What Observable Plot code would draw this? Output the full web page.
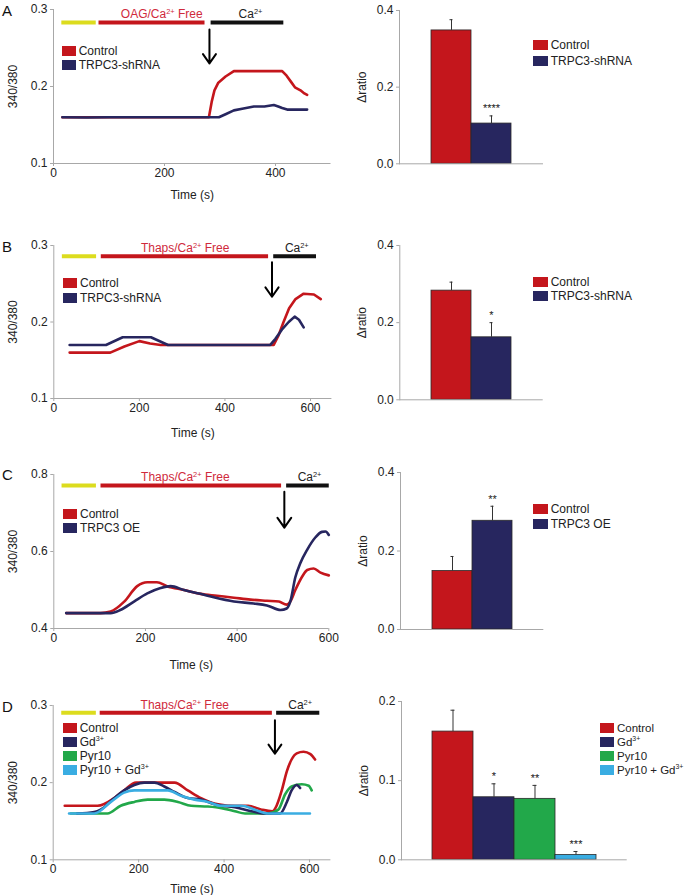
<!DOCTYPE html>
<html>
<head>
<meta charset="utf-8">
<script src="https://cdn.jsdelivr.net/npm/d3@7"></script>
<script src="https://cdn.jsdelivr.net/npm/@observablehq/plot@0.6"></script>
<style>
  body { margin: 0; background: #fff; }
  #fig { position: relative; width: 685px; height: 895px; overflow: hidden;
         font-family: "Liberation Sans", Arial, Helvetica, sans-serif; color: #222; }
  #fig svg { position: absolute; overflow: visible; }
  .letter { position: absolute; font-size: 15px; line-height: 15px; color: #111; }
  .legend { position: absolute; font-size: 12px; white-space: nowrap; }
  .legend .row { display: flex; align-items: center; height: 14.5px; }
  .legend .sw { display: inline-block; width: 14px; height: 10px; margin-right: 3px; }
  sup { font-size: 0.6em; vertical-align: 0.7em; line-height: 0; }
</style>
</head>
<body>
<div id="fig"></div>
<script>
// ---------------- DATA ----------------
// Panel A traces [time (s), 340/380]
const A_control = [[16,0.16],[100,0.16],[200,0.16],[280,0.16],[285,0.18],[290,0.195],[297,0.205],[310,0.213],[325,0.22],[360,0.22],[412,0.22],[420,0.214],[428,0.206],[435,0.199],[445,0.195],[452,0.191],[457,0.189]];
const A_trpc3 = [[16,0.16],[60,0.1598],[100,0.16],[200,0.16],[298,0.16],[310,0.164],[325,0.169],[340,0.171],[361,0.174],[380,0.174],[397,0.176],[405,0.174],[412,0.172],[421,0.17],[457,0.17]];
// Panel B traces
const B_control = [[37,0.16],[132,0.16],[165,0.168],[200,0.175],[225,0.172],[250,0.17],[514,0.17],[525,0.182],[537,0.2],[550,0.218],[565,0.23],[584,0.237],[608,0.236],[624,0.23]];
const B_trpc3 = [[37,0.17],[122,0.17],[161,0.18],[227,0.18],[267,0.17],[506,0.17],[518,0.178],[533,0.19],[549,0.2],[563,0.207],[573,0.203],[584,0.193]];
// Panel C traces
const C_control = [[27,0.44],[102,0.44],[124,0.444],[153,0.469],[182,0.51],[204,0.52],[225,0.52],[247,0.51],[284,0.5],[320,0.49],[356,0.485],[393,0.48],[429,0.475],[465,0.472],[491,0.47],[508,0.462],[516,0.47],[527,0.5],[542,0.535],[553,0.552],[567,0.556],[582,0.545],[600,0.538]];
const C_oe = [[27,0.44],[124,0.44],[145,0.448],[175,0.47],[204,0.491],[233,0.505],[255,0.51],[284,0.5],[320,0.49],[349,0.481],[393,0.47],[436,0.465],[465,0.46],[495,0.448],[508,0.452],[516,0.47],[527,0.533],[538,0.57],[553,0.605],[571,0.637],[585,0.651],[593,0.652],[600,0.643]];
// Panel D traces
const D_control = [[27,0.17],[104,0.17],[143,0.18],[166,0.19],[194,0.2],[284,0.2],[315,0.19],[346,0.18],[386,0.172],[425,0.17],[456,0.17],[488,0.165],[513,0.163],[521,0.168],[535,0.19],[547,0.215],[558,0.23],[570,0.238],[586,0.24],[602,0.237],[613,0.23]];
const D_gd = [[56,0.16],[96,0.162],[111,0.165],[143,0.18],[166,0.19],[190,0.197],[213,0.2],[237,0.2],[260,0.195],[284,0.188],[315,0.18],[346,0.178],[378,0.172],[425,0.168],[464,0.163],[495,0.16],[531,0.16],[547,0.175],[558,0.19],[570,0.197],[578,0.193]];
const D_pyr = [[41,0.16],[127,0.16],[158,0.17],[190,0.175],[221,0.178],[260,0.178],[292,0.175],[323,0.17],[362,0.169],[394,0.167],[425,0.163],[449,0.16],[503,0.16],[527,0.165],[543,0.185],[558,0.195],[582,0.198],[598,0.196],[605,0.19]];
const D_pyrgd = [[37,0.16],[96,0.16],[135,0.175],[166,0.187],[190,0.19],[268,0.19],[299,0.183],[331,0.178],[362,0.175],[394,0.17],[441,0.17],[472,0.165],[503,0.16],[601,0.16]];

// Protocol segments (time, s); labelAt = where the label is centred
const protoA = [{start:15,end:77,label:"",labelAt:46},{start:82,end:273,label:"OAG/Ca²⁺ Free",labelAt:195},{start:284,end:415,label:"Ca²⁺",labelAt:355}];
const protoB = [{start:20,end:100,label:"",labelAt:60},{start:111,end:502,label:"Thaps/Ca²⁺ Free",labelAt:307},{start:514,end:614,label:"Ca²⁺",labelAt:568}];
const protoC = [{start:18,end:93,label:"",labelAt:55},{start:103,end:497,label:"Thaps/Ca²⁺ Free",labelAt:287},{start:508,end:601,label:"Ca²⁺",labelAt:558}];
const protoD = [{start:20,end:101,label:"",labelAt:60},{start:110,end:513,label:"Thaps/Ca²⁺ Free",labelAt:308},{start:523,end:624,label:"Ca²⁺",labelAt:578}];

// Ca2+ addition arrows
const arrowA = {t:281, from:0.274, to:0.230};
const arrowB = {t:510, from:0.278, to:0.233};
const arrowC = {t:503, from:0.755, to:0.662};
const arrowD = {t:519, from:0.281, to:0.2375};

// Bar charts (Δratio)
const barA_groups = ["Control","TRPC3-shRNA"];
const barA_values = [0.348, 0.105];
const barA_errors = [0.028, 0.020];
const barA_stars  = ["", "****"];

const barB_groups = ["Control","TRPC3-shRNA"];
const barB_values = [0.283, 0.162];
const barB_errors = [0.022, 0.038];
const barB_stars  = ["", "*"];

const barC_groups = ["Control","TRPC3 OE"];
const barC_values = [0.149, 0.277];
const barC_errors = [0.037, 0.037];
const barC_stars  = ["", "**"];

const barD_groups = ["Control","Gd³⁺","Pyr10","Pyr10 + Gd³⁺"];
const barD_values = [0.162, 0.079, 0.077, 0.006];
const barD_errors = [0.027, 0.017, 0.017, 0.0045];
const barD_stars  = ["", "*", "**", "***"];

// Tick labels
const ticksX_A = [0,200,400];
const ticksX_BCD = [0,200,400,600];
const ticksY_ratio = [0.1,0.2,0.3];
const ticksY_C = [0.4,0.6,0.8];
const ticksY_bar = [0.0,0.2,0.4];
const ticksY_barD = [0.0,0.1,0.2];

// ---------------- STYLE ----------------
const COL = {red:"#c4161c", navy:"#27265f", green:"#22a84a", cyan:"#3aade2", yellow:"#dcdc1e", black:"#111111", label:"#d02a3c"};
const PROTO_COLORS = [COL.yellow, COL.red, COL.black];
const PROTO_TEXT = [COL.black, COL.label, "#222"];
const AXIS = "#a8a8a8";
const TXT = "#222";
const FONT = '"Liberation Sans", Arial, Helvetica, sans-serif';

const fig = document.getElementById("fig");
const NS = "http://www.w3.org/2000/svg";

function supify(root) {
  root.querySelectorAll("text, tspan").forEach(t => {
    if (t.children.length) return;
    const s = t.textContent;
    if (!/[²³]⁺/.test(s)) return;
    const parts = s.split(/([²³]⁺)/);
    t.textContent = "";
    parts.forEach(p => {
      if (!p) return;
      const ts = document.createElementNS(NS, "tspan");
      if (/[²³]⁺/.test(p)) {
        ts.textContent = p.replace("²","2").replace("³","3").replace("⁺","+");
        ts.setAttribute("baseline-shift", "super");
        ts.setAttribute("font-size", "0.62em");
      } else ts.textContent = p;
      t.appendChild(ts);
    });
  });
}
function htmlSup(s) {
  return s.replace(/([²³])⁺/g, (m, d) => "<sup>" + (d === "²" ? "2" : "3") + "+</sup>");
}

function place(svg, left, top) {
  svg.style.left = left + "px";
  svg.style.top = top + "px";
  supify(svg);
  fig.appendChild(svg);
}

function linePanel(p) {
  const W = 340, mt = 10, mb = 45;
  const H = (p.fb - p.ft) + mt + mb;
  const topV = p.yDomain[1];
  const proto = p.proto.map((d, i) => ({...d, color: PROTO_COLORS[i], textColor: PROTO_TEXT[i]}));
  const svg = Plot.plot({
    width: W, height: H,
    marginLeft: p.fl, marginRight: W - p.fr, marginTop: mt, marginBottom: mb,
    x: {domain: p.xDomain},
    y: {domain: p.yDomain},
    color: {type: "identity"},
    style: {fontFamily: FONT, fontSize: "12px", background: "transparent", color: TXT},
    marks: [
      Plot.ruleX([p.xDomain[0]], {stroke: AXIS, strokeWidth: 1}),
      Plot.ruleY([p.yDomain[0]], {stroke: AXIS, strokeWidth: 1}),
      Plot.axisX({ticks: p.xTicks, tickSize: 3, tickPadding: 2, stroke: AXIS, fill: TXT, tickFormat: d3.format("d"),
                  label: "Time (s)", labelAnchor: "center", labelOffset: p.timeOffset, labelArrow: "none"}),
      Plot.axisY({ticks: p.yTicks, tickSize: 3, tickPadding: 3, stroke: AXIS, fill: TXT, tickFormat: d3.format(".1f"),
                  label: "340/380", labelAnchor: "center", labelOffset: 45, labelArrow: "none"}),
      Plot.ruleY(proto, {x1: "start", x2: "end", y: () => topV, dy: p.barOffset, stroke: "color", strokeWidth: 4}),
      Plot.text(proto, {x: "labelAt", y: () => topV, dy: p.barOffset - 8, text: "label", fill: "textColor", fontSize: 12}),
      Plot.arrow([p.arrow], {x1: "t", x2: "t", y1: "from", y2: "to", stroke: "#000", strokeWidth: 2, headLength: 9, headAngle: 70}),
      ...p.series.map(s => Plot.line(s.data, {x: d => d[0], y: d => d[1], stroke: () => s.color, strokeWidth: 2.6, curve: p.curve}))
    ]
  });
  place(svg, 0, p.ft - mt);
}

function barPanel(p) {
  const W = 345, mt = 10, mb = 20, L = 340;
  const H = (p.fb - p.ft) + mt + mb;
  const data = p.groups.map((g, i) => ({g, v: p.values[i], e: p.errors[i], s: p.stars[i]}));
  const bw = 41;
  const svg = Plot.plot({
    width: W, height: H,
    marginLeft: p.fl - L, marginRight: (L + W) - p.fr, marginTop: mt, marginBottom: mb,
    x: {type: "band", domain: p.groups, paddingInner: 0, paddingOuter: p.pad, axis: null},
    y: {domain: p.yDomain},
    color: {domain: p.groups, range: p.colors},
    style: {fontFamily: FONT, fontSize: "12px", background: "transparent", color: TXT},
    marks: [
      Plot.barY(data, {x: "g", y: "v", fill: "g", stroke: "#2a2a2a", strokeWidth: 0.8}),
      Plot.ruleX(data, {x: "g", y1: "v", y2: d => d.v + d.e, stroke: "#333", strokeWidth: 1}),
      Plot.tickY(data, {x: "g", y: d => d.v + d.e, stroke: "#333", strokeWidth: 1, insetLeft: bw / 2 - 2, insetRight: bw / 2 - 2}),
      Plot.text(data, {x: "g", y: d => d.v + d.e, text: "s", dy: -7, fontSize: 11, fill: TXT}),
      Plot.ruleY([0], {stroke: AXIS, strokeWidth: 1}),
      Plot.frame({anchor: "left", stroke: AXIS, strokeWidth: 1}),
      Plot.axisY({ticks: p.yTicks, tickSize: 3, tickPadding: 3, stroke: AXIS, fill: TXT, tickFormat: d3.format(".1f"),
                  label: "Δratio", labelAnchor: "center", labelOffset: 42, labelArrow: "none"})
    ]
  });
  place(svg, L, p.ft - mt);
}

function legend(x, yFirst, labels, colors, step, swW, fontSize) {
  const div = document.createElement("div");
  div.className = "legend";
  div.style.left = x + "px";
  div.style.top = (yFirst - step / 2) + "px";
  if (fontSize) div.style.fontSize = fontSize + "px";
  labels.forEach((lab, i) => {
    const row = document.createElement("div");
    row.className = "row";
    row.style.height = step + "px";
    row.innerHTML = `<span class="sw" style="background:${colors[i]};width:${swW}px"></span><span>${htmlSup(lab)}</span>`;
    div.appendChild(row);
  });
  fig.appendChild(div);
}

function letter(ch, x, y) {
  const d = document.createElement("div");
  d.className = "letter";
  d.textContent = ch;
  d.style.left = x + "px";
  d.style.top = y + "px";
  fig.appendChild(d);
}

// ---------------- PANELS ----------------
linePanel({fl: 53, fr: 330.5, ft: 9, fb: 163, xDomain: [0, 500], xTicks: ticksX_A, yDomain: [0.1, 0.3], yTicks: ticksY_ratio,
  proto: protoA, arrow: arrowA, barOffset: 13, timeOffset: 35, curve: "linear",
  series: [{data: A_control, color: COL.red}, {data: A_trpc3, color: COL.navy}]});
barPanel({fl: 399, fr: 543, ft: 10, fb: 163.3, groups: barA_groups, values: barA_values, errors: barA_errors, stars: barA_stars,
  colors: [COL.red, COL.navy], yDomain: [0, 0.4], yTicks: ticksY_bar, pad: 0.77});

linePanel({fl: 53.3, fr: 331.4, ft: 245, fb: 398, xDomain: [0, 650], xTicks: ticksX_BCD, yDomain: [0.1, 0.3], yTicks: ticksY_ratio,
  proto: protoB, arrow: arrowB, barOffset: 10.7, timeOffset: 38, curve: "linear",
  series: [{data: B_control, color: COL.red}, {data: B_trpc3, color: COL.navy}]});
barPanel({fl: 399.3, fr: 542.7, ft: 245, fb: 399.3, groups: barB_groups, values: barB_values, errors: barB_errors, stars: barB_stars,
  colors: [COL.red, COL.navy], yDomain: [0, 0.4], yTicks: ticksY_bar, pad: 0.77});

linePanel({fl: 53.3, fr: 328.3, ft: 474.3, fb: 628.3, xDomain: [0, 600], xTicks: ticksX_BCD, yDomain: [0.4, 0.8], yTicks: ticksY_C,
  proto: protoC, arrow: arrowC, barOffset: 11, timeOffset: 40, curve: "monotone-x",
  series: [{data: C_control, color: COL.red}, {data: C_oe, color: COL.navy}]});
barPanel({fl: 400, fr: 543.3, ft: 471.7, fb: 628.7, groups: barC_groups, values: barC_values, errors: barC_errors, stars: barC_stars,
  colors: [COL.red, COL.navy], yDomain: [0, 0.4], yTicks: ticksY_bar, pad: 0.76});

linePanel({fl: 52.7, fr: 330.4, ft: 705, fb: 859.3, xDomain: [0, 650], xTicks: ticksX_BCD, yDomain: [0.1, 0.3], yTicks: ticksY_ratio,
  proto: protoD, arrow: arrowD, barOffset: 7.3, timeOffset: 33.5, curve: "monotone-x",
  series: [{data: D_control, color: COL.red}, {data: D_pyr, color: COL.green}, {data: D_gd, color: COL.navy}, {data: D_pyrgd, color: COL.cyan}]});
barPanel({fl: 401, fr: 626.7, ft: 700.7, fb: 859, groups: barD_groups, values: barD_values, errors: barD_errors, stars: barD_stars,
  colors: [COL.red, COL.navy, COL.green, COL.cyan], yDomain: [0, 0.2], yTicks: ticksY_barD, pad: 0.75});

// ---------------- LEGENDS & LETTERS ----------------
legend(61.7, 50.7, barA_groups, [COL.red, COL.navy], 14, 14);
legend(532.7, 45, barA_groups, [COL.red, COL.navy], 15.5, 15);
legend(63, 283.3, barB_groups, [COL.red, COL.navy], 15, 14);
legend(532.7, 281.7, barB_groups, [COL.red, COL.navy], 14.6, 15);
legend(63, 514, barC_groups, [COL.red, COL.navy], 14.3, 14);
legend(532.7, 509, barC_groups, [COL.red, COL.navy], 15, 15);
legend(62.7, 727.7, barD_groups, [COL.red, COL.navy, COL.green, COL.cyan], 14.1, 14);
legend(600, 727.7, barD_groups, [COL.red, COL.navy, COL.green, COL.cyan], 14.1, 14, 11.5);

letter("A", 2, 3);
letter("B", 2, 239);
letter("C", 2, 467);
letter("D", 2, 699);
</script>
</body>
</html>
